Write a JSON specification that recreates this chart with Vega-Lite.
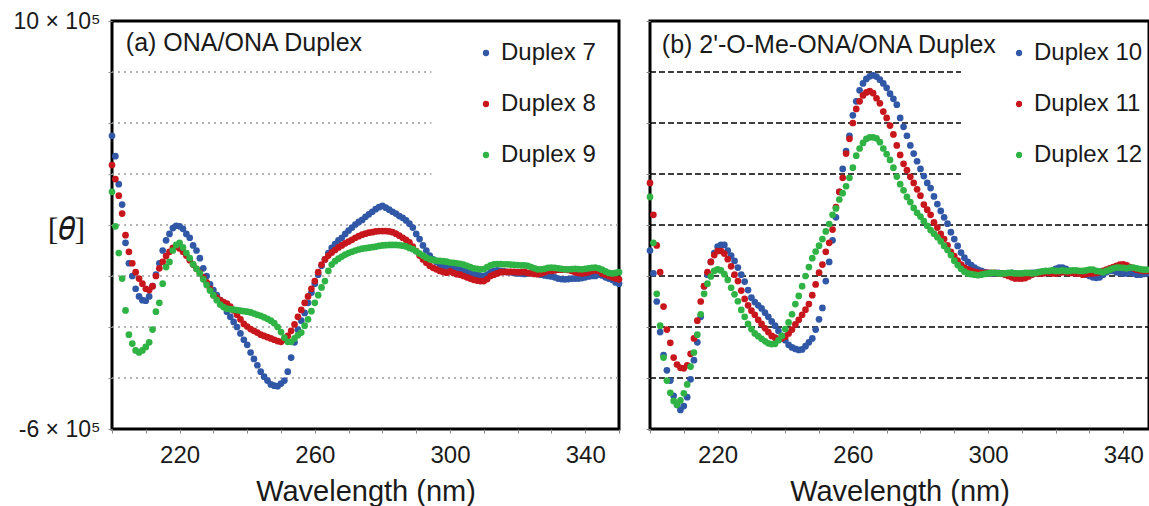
{
"$schema":"https://vega.github.io/schema/vega-lite/v6.json",
"padding":{"left":11,"top":8,"right":0,"bottom":0},
"spacing":20,
"background":"white",
"config":{
 "font":"Liberation Sans",
 "view":{"stroke":"#000","strokeWidth":3},
 "axis":{"domain":false,"grid":false,"tickColor":"#888","tickSize":4,"labelColor":"#1a1a1a","labelFont":"Liberation Sans","titleColor":"#1a1a1a","titleFontWeight":"normal"},
 "axisX":{"values":[200,220,240,260,280,300,320,340],"labelExpr":"datum.value % 40 == 20 ? datum.label : ''","labelFontSize":24,"labelPadding":10,"titleFontSize":29,"titlePadding":10,"labelFlush":false},
 "axisY":{"values":[-6,-4,-2,0,2,4,6,8,10],"labelExpr":"datum.value == 10 ? '10 × 10⁵' : (datum.value == -6 ? '-6 × 10⁵' : '')","labelFontSize":23,"labelPadding":8,"labelFlush":false}
},
"datasets":{
"a":[
{"w":200,"d7":5.5,"d8":4.35,"d9":3.3},{"w":201,"d7":4.7,"d8":3.8,"d9":1.95},{"w":202,"d7":3.6,"d8":3.15,"d9":0.9},{"w":203,"d7":2.8,"d8":2.45,"d9":-0.1},{"w":204,"d7":1.3,"d8":1.6,"d9":-1.35},{"w":205,"d7":0.5,"d8":0.95,"d9":-2.3},{"w":206,"d7":0.0,"d8":0.5,"d9":-2.65},{"w":207,"d7":-0.5,"d8":0.15,"d9":-2.92},{"w":208,"d7":-0.8,"d8":-0.1,"d9":-3.0},{"w":209,"d7":-0.95,"d8":-0.3,"d9":-2.92},
{"w":210,"d7":-0.97,"d8":-0.5,"d9":-2.78},{"w":211,"d7":-0.8,"d8":-0.55,"d9":-2.6},{"w":212,"d7":-0.4,"d8":-0.4,"d9":-2.1},{"w":213,"d7":0.05,"d8":0.0,"d9":-1.4},{"w":214,"d7":0.5,"d8":0.3,"d9":-1.05},{"w":215,"d7":1.0,"d8":0.55,"d9":-0.3},{"w":216,"d7":1.4,"d8":0.78,"d9":0.35},{"w":217,"d7":1.65,"d8":0.95,"d9":0.55},{"w":218,"d7":1.88,"d8":1.1,"d9":1.0},{"w":219,"d7":1.97,"d8":1.15,"d9":1.22},
{"w":220,"d7":1.95,"d8":1.08,"d9":1.3},{"w":221,"d7":1.85,"d8":0.95,"d9":1.12},{"w":222,"d7":1.65,"d8":0.8,"d9":0.9},{"w":223,"d7":1.5,"d8":0.62,"d9":0.7},{"w":224,"d7":1.2,"d8":0.45,"d9":0.46},{"w":225,"d7":1.0,"d8":0.28,"d9":0.28},{"w":226,"d7":0.7,"d8":0.12,"d9":0.1},{"w":227,"d7":0.3,"d8":-0.05,"d9":-0.13},{"w":228,"d7":0.0,"d8":-0.25,"d9":-0.35},{"w":229,"d7":-0.33,"d8":-0.5,"d9":-0.57},
{"w":230,"d7":-0.55,"d8":-0.75,"d9":-0.75},{"w":231,"d7":-0.75,"d8":-0.85,"d9":-0.95},{"w":232,"d7":-0.95,"d8":-0.95,"d9":-1.12},{"w":233,"d7":-1.15,"d8":-1.02,"d9":-1.22},{"w":234,"d7":-1.4,"d8":-1.08,"d9":-1.28},{"w":235,"d7":-1.6,"d8":-1.2,"d9":-1.3},{"w":236,"d7":-1.8,"d8":-1.35,"d9":-1.32},{"w":237,"d7":-2.0,"d8":-1.52,"d9":-1.34},{"w":238,"d7":-2.25,"d8":-1.7,"d9":-1.36},{"w":239,"d7":-2.5,"d8":-1.88,"d9":-1.38},
{"w":240,"d7":-2.7,"d8":-1.98,"d9":-1.4},{"w":241,"d7":-3.0,"d8":-2.08,"d9":-1.43},{"w":242,"d7":-3.25,"d8":-2.15,"d9":-1.47},{"w":243,"d7":-3.5,"d8":-2.22,"d9":-1.52},{"w":244,"d7":-3.75,"d8":-2.3,"d9":-1.56},{"w":245,"d7":-3.95,"d8":-2.35,"d9":-1.62},{"w":246,"d7":-4.1,"d8":-2.4,"d9":-1.68},{"w":247,"d7":-4.25,"d8":-2.45,"d9":-1.75},{"w":248,"d7":-4.3,"d8":-2.5,"d9":-1.85},{"w":249,"d7":-4.32,"d8":-2.55,"d9":-2.0},
{"w":250,"d7":-4.22,"d8":-2.58,"d9":-2.2},{"w":251,"d7":-4.1,"d8":-2.5,"d9":-2.42},{"w":252,"d7":-3.75,"d8":-2.35,"d9":-2.58},{"w":253,"d7":-3.2,"d8":-2.15,"d9":-2.58},{"w":254,"d7":-2.6,"d8":-1.9,"d9":-2.45},{"w":255,"d7":-2.1,"d8":-1.6,"d9":-2.32},{"w":256,"d7":-1.75,"d8":-1.33,"d9":-2.22},{"w":257,"d7":-1.45,"d8":-1.05,"d9":-1.95},{"w":258,"d7":-1.05,"d8":-0.8,"d9":-1.7},{"w":259,"d7":-0.65,"d8":-0.5,"d9":-1.38},
{"w":260,"d7":-0.3,"d8":-0.2,"d9":-1.05},{"w":261,"d7":0.05,"d8":0.15,"d9":-0.75},{"w":262,"d7":0.4,"d8":0.45,"d9":-0.45},{"w":263,"d7":0.65,"d8":0.65,"d9":-0.2},{"w":264,"d7":0.9,"d8":0.8,"d9":0.2},{"w":265,"d7":1.1,"d8":0.92,"d9":0.45},{"w":266,"d7":1.25,"d8":1.02,"d9":0.58},{"w":267,"d7":1.4,"d8":1.12,"d9":0.68},{"w":268,"d7":1.5,"d8":1.2,"d9":0.76},{"w":269,"d7":1.65,"d8":1.28,"d9":0.84},
{"w":270,"d7":1.78,"d8":1.35,"d9":0.9},{"w":271,"d7":1.9,"d8":1.42,"d9":0.95},{"w":272,"d7":2.02,"d8":1.5,"d9":1.0},{"w":273,"d7":2.12,"d8":1.56,"d9":1.04},{"w":274,"d7":2.2,"d8":1.62,"d9":1.07},{"w":275,"d7":2.32,"d8":1.66,"d9":1.09},{"w":276,"d7":2.42,"d8":1.7,"d9":1.11},{"w":277,"d7":2.52,"d8":1.72,"d9":1.13},{"w":278,"d7":2.62,"d8":1.75,"d9":1.15},{"w":279,"d7":2.7,"d8":1.76,"d9":1.18},
{"w":280,"d7":2.75,"d8":1.76,"d9":1.2},{"w":281,"d7":2.68,"d8":1.76,"d9":1.21},{"w":282,"d7":2.6,"d8":1.75,"d9":1.22},{"w":283,"d7":2.52,"d8":1.72,"d9":1.22},{"w":284,"d7":2.45,"d8":1.66,"d9":1.22},{"w":285,"d7":2.35,"d8":1.58,"d9":1.21},{"w":286,"d7":2.28,"d8":1.5,"d9":1.19},{"w":287,"d7":2.18,"d8":1.42,"d9":1.16},{"w":288,"d7":2.05,"d8":1.32,"d9":1.1},{"w":289,"d7":1.9,"d8":1.15,"d9":1.05},
{"w":290,"d7":1.65,"d8":0.98,"d9":0.97},{"w":291,"d7":1.45,"d8":0.8,"d9":0.88},{"w":292,"d7":1.2,"d8":0.65,"d9":0.8},{"w":293,"d7":1.0,"d8":0.52,"d9":0.72},{"w":294,"d7":0.8,"d8":0.4,"d9":0.66},{"w":295,"d7":0.65,"d8":0.32,"d9":0.63},{"w":296,"d7":0.55,"d8":0.26,"d9":0.6},{"w":297,"d7":0.45,"d8":0.2,"d9":0.59},{"w":298,"d7":0.4,"d8":0.16,"d9":0.58},{"w":299,"d7":0.38,"d8":0.13,"d9":0.56},
{"w":300,"d7":0.37,"d8":0.18,"d9":0.53},{"w":301,"d7":0.35,"d8":0.12,"d9":0.52},{"w":302,"d7":0.33,"d8":0.07,"d9":0.5},{"w":303,"d7":0.25,"d8":0.05,"d9":0.48},{"w":304,"d7":0.2,"d8":0.0,"d9":0.45},{"w":305,"d7":0.18,"d8":-0.05,"d9":0.4},{"w":306,"d7":0.12,"d8":-0.1,"d9":0.35},{"w":307,"d7":0.08,"d8":-0.15,"d9":0.3},{"w":308,"d7":0.05,"d8":-0.18,"d9":0.28},{"w":309,"d7":0.02,"d8":-0.2,"d9":0.26},
{"w":310,"d7":0.0,"d8":-0.2,"d9":0.27},{"w":311,"d7":0.05,"d8":-0.12,"d9":0.35},{"w":312,"d7":0.15,"d8":0.0,"d9":0.42},{"w":313,"d7":0.2,"d8":0.05,"d9":0.46},{"w":314,"d7":0.22,"d8":0.1,"d9":0.47},{"w":315,"d7":0.2,"d8":0.15,"d9":0.47},{"w":316,"d7":0.18,"d8":0.16,"d9":0.46},{"w":317,"d7":0.15,"d8":0.16,"d9":0.46},{"w":318,"d7":0.15,"d8":0.16,"d9":0.45},{"w":319,"d7":0.12,"d8":0.16,"d9":0.44},
{"w":320,"d7":0.1,"d8":0.15,"d9":0.43},{"w":321,"d7":0.1,"d8":0.15,"d9":0.42},{"w":322,"d7":0.08,"d8":0.16,"d9":0.42},{"w":323,"d7":0.1,"d8":0.12,"d9":0.4},{"w":324,"d7":0.12,"d8":0.1,"d9":0.35},{"w":325,"d7":0.1,"d8":0.08,"d9":0.3},{"w":326,"d7":0.08,"d8":0.07,"d9":0.26},{"w":327,"d7":0.05,"d8":0.1,"d9":0.26},{"w":328,"d7":0.02,"d8":0.15,"d9":0.28},{"w":329,"d7":0.0,"d8":0.2,"d9":0.32},
{"w":330,"d7":-0.02,"d8":0.2,"d9":0.33},{"w":331,"d7":-0.05,"d8":0.22,"d9":0.32},{"w":332,"d7":-0.1,"d8":0.25,"d9":0.3},{"w":333,"d7":-0.12,"d8":0.25,"d9":0.28},{"w":334,"d7":-0.13,"d8":0.26,"d9":0.26},{"w":335,"d7":-0.12,"d8":0.24,"d9":0.26},{"w":336,"d7":-0.1,"d8":0.2,"d9":0.27},{"w":337,"d7":-0.1,"d8":0.15,"d9":0.28},{"w":338,"d7":-0.1,"d8":0.12,"d9":0.27},{"w":339,"d7":-0.08,"d8":0.1,"d9":0.26},
{"w":340,"d7":-0.05,"d8":0.12,"d9":0.28},{"w":341,"d7":-0.02,"d8":0.15,"d9":0.3},{"w":342,"d7":0.0,"d8":0.2,"d9":0.32},{"w":343,"d7":0.0,"d8":0.22,"d9":0.33},{"w":344,"d7":0.05,"d8":0.2,"d9":0.3},{"w":345,"d7":0.02,"d8":0.1,"d9":0.25},{"w":346,"d7":-0.05,"d8":0.05,"d9":0.18},{"w":347,"d7":-0.1,"d8":0.0,"d9":0.12},{"w":348,"d7":-0.15,"d8":-0.05,"d9":0.1},{"w":349,"d7":-0.25,"d8":-0.1,"d9":0.12},
{"w":350,"d7":-0.3,"d8":-0.13,"d9":0.15}
],
"b":[
{"w":200,"d10":1.0,"d11":3.65,"d12":3.1},{"w":201,"d10":0.1,"d11":2.4,"d12":1.3},{"w":202,"d10":-1.0,"d11":1.2,"d12":-0.7},{"w":203,"d10":-2.2,"d11":0.15,"d12":-1.95},{"w":204,"d10":-3.1,"d11":-1.2,"d12":-3.2},{"w":205,"d10":-3.7,"d11":-2.1,"d12":-4.1},{"w":206,"d10":-4.1,"d11":-2.62,"d12":-4.58},{"w":207,"d10":-4.7,"d11":-3.2,"d12":-4.9},{"w":208,"d10":-5.05,"d11":-3.47,"d12":-5.05},{"w":209,"d10":-5.25,"d11":-3.6,"d12":-4.88},
{"w":210,"d10":-5.1,"d11":-3.62,"d12":-4.6},{"w":211,"d10":-4.75,"d11":-3.5,"d12":-4.25},{"w":212,"d10":-4.05,"d11":-3.05,"d12":-3.55},{"w":213,"d10":-3.3,"d11":-2.45,"d12":-3.0},{"w":214,"d10":-2.6,"d11":-1.75,"d12":-2.3},{"w":215,"d10":-1.6,"d11":-1.0,"d12":-1.5},{"w":216,"d10":-0.4,"d11":-0.4,"d12":-0.7},{"w":217,"d10":0.05,"d11":0.15,"d12":-0.3},{"w":218,"d10":0.55,"d11":0.55,"d12":-0.02},{"w":219,"d10":0.9,"d11":0.82,"d12":0.2},
{"w":220,"d10":1.15,"d11":0.98,"d12":0.26},{"w":221,"d10":1.22,"d11":0.98,"d12":0.22},{"w":222,"d10":1.22,"d11":0.88,"d12":0.07},{"w":223,"d10":1.0,"d11":0.66,"d12":-0.15},{"w":224,"d10":0.8,"d11":0.38,"d12":-0.46},{"w":225,"d10":0.59,"d11":0.05,"d12":-0.72},{"w":226,"d10":0.33,"d11":-0.2,"d12":-0.99},{"w":227,"d10":0.05,"d11":-0.57,"d12":-1.33},{"w":228,"d10":-0.22,"d11":-0.9,"d12":-1.6},{"w":229,"d10":-0.55,"d11":-1.15,"d12":-1.88},
{"w":230,"d10":-0.85,"d11":-1.36,"d12":-2.08},{"w":231,"d10":-1.02,"d11":-1.52,"d12":-2.25},{"w":232,"d10":-1.15,"d11":-1.72,"d12":-2.36},{"w":233,"d10":-1.27,"d11":-1.88,"d12":-2.46},{"w":234,"d10":-1.44,"d11":-2.05,"d12":-2.56},{"w":235,"d10":-1.6,"d11":-2.2,"d12":-2.64},{"w":236,"d10":-1.78,"d11":-2.35,"d12":-2.67},{"w":237,"d10":-1.95,"d11":-2.42,"d12":-2.66},{"w":238,"d10":-2.15,"d11":-2.5,"d12":-2.52},{"w":239,"d10":-2.35,"d11":-2.45,"d12":-2.35},
{"w":240,"d10":-2.52,"d11":-2.38,"d12":-2.08},{"w":241,"d10":-2.7,"d11":-2.25,"d12":-1.82},{"w":242,"d10":-2.8,"d11":-2.1,"d12":-1.5},{"w":243,"d10":-2.86,"d11":-1.9,"d12":-1.1},{"w":244,"d10":-2.9,"d11":-1.72,"d12":-0.78},{"w":245,"d10":-2.88,"d11":-1.52,"d12":-0.4},{"w":246,"d10":-2.75,"d11":-1.32,"d12":0.0},{"w":247,"d10":-2.6,"d11":-1.1,"d12":0.35},{"w":248,"d10":-2.45,"d11":-0.75,"d12":0.7},{"w":249,"d10":-2.1,"d11":-0.33,"d12":0.96},
{"w":250,"d10":-1.7,"d11":0.13,"d12":1.19},{"w":251,"d10":-1.25,"d11":0.45,"d12":1.45},{"w":252,"d10":-0.2,"d11":0.95,"d12":1.75},{"w":253,"d10":0.55,"d11":1.3,"d12":2.04},{"w":254,"d10":1.4,"d11":1.82,"d12":2.4},{"w":255,"d10":2.3,"d11":2.7,"d12":2.65},{"w":256,"d10":3.3,"d11":3.3,"d12":3.0},{"w":257,"d10":4.2,"d11":3.85,"d12":3.25},{"w":258,"d10":4.9,"d11":4.8,"d12":3.52},{"w":259,"d10":5.5,"d11":5.38,"d12":3.85},
{"w":260,"d10":6.3,"d11":6.0,"d12":4.25},{"w":261,"d10":6.85,"d11":6.55,"d12":4.72},{"w":262,"d10":7.28,"d11":6.85,"d12":5.0},{"w":263,"d10":7.55,"d11":7.08,"d12":5.22},{"w":264,"d10":7.73,"d11":7.2,"d12":5.38},{"w":265,"d10":7.83,"d11":7.25,"d12":5.44},{"w":266,"d10":7.87,"d11":7.17,"d12":5.44},{"w":267,"d10":7.82,"d11":6.97,"d12":5.4},{"w":268,"d10":7.7,"d11":6.77,"d12":5.25},{"w":269,"d10":7.55,"d11":6.45,"d12":5.0},
{"w":270,"d10":7.38,"d11":6.2,"d12":4.78},{"w":271,"d10":7.15,"d11":5.9,"d12":4.55},{"w":272,"d10":6.95,"d11":5.55,"d12":4.25},{"w":273,"d10":6.72,"d11":5.12,"d12":3.9},{"w":274,"d10":6.2,"d11":4.75,"d12":3.6},{"w":275,"d10":5.85,"d11":4.4,"d12":3.36},{"w":276,"d10":5.5,"d11":4.15,"d12":3.1},{"w":277,"d10":5.12,"d11":3.89,"d12":2.9},{"w":278,"d10":4.8,"d11":3.65,"d12":2.67},{"w":279,"d10":4.5,"d11":3.4,"d12":2.48},
{"w":280,"d10":4.2,"d11":3.15,"d12":2.33},{"w":281,"d10":3.92,"d11":2.8,"d12":2.15},{"w":282,"d10":3.65,"d11":2.6,"d12":1.97},{"w":283,"d10":3.45,"d11":2.4,"d12":1.8},{"w":284,"d10":3.12,"d11":2.1,"d12":1.66},{"w":285,"d10":2.82,"d11":1.9,"d12":1.52},{"w":286,"d10":2.55,"d11":1.65,"d12":1.36},{"w":287,"d10":2.3,"d11":1.45,"d12":1.18},{"w":288,"d10":2.05,"d11":1.2,"d12":1.02},{"w":289,"d10":1.72,"d11":0.95,"d12":0.82},
{"w":290,"d10":1.45,"d11":0.78,"d12":0.6},{"w":291,"d10":1.18,"d11":0.6,"d12":0.43},{"w":292,"d10":0.92,"d11":0.45,"d12":0.28},{"w":293,"d10":0.72,"d11":0.33,"d12":0.17},{"w":294,"d10":0.55,"d11":0.26,"d12":0.1},{"w":295,"d10":0.43,"d11":0.2,"d12":0.07},{"w":296,"d10":0.33,"d11":0.16,"d12":0.05},{"w":297,"d10":0.25,"d11":0.13,"d12":0.03},{"w":298,"d10":0.2,"d11":0.12,"d12":0.05},{"w":299,"d10":0.15,"d11":0.12,"d12":0.08},
{"w":300,"d10":0.12,"d11":0.12,"d12":0.1},{"w":301,"d10":0.1,"d11":0.12,"d12":0.12},{"w":302,"d10":0.1,"d11":0.12,"d12":0.12},{"w":303,"d10":0.12,"d11":0.1,"d12":0.1},{"w":304,"d10":0.1,"d11":0.1,"d12":0.1},{"w":305,"d10":0.08,"d11":0.05,"d12":0.1},{"w":306,"d10":0.1,"d11":0.0,"d12":0.12},{"w":307,"d10":0.12,"d11":-0.05,"d12":0.12},{"w":308,"d10":0.1,"d11":-0.1,"d12":0.1},{"w":309,"d10":0.05,"d11":-0.1,"d12":0.1},
{"w":310,"d10":0.05,"d11":-0.1,"d12":0.1},{"w":311,"d10":0.08,"d11":-0.08,"d12":0.12},{"w":312,"d10":0.1,"d11":-0.02,"d12":0.12},{"w":313,"d10":0.12,"d11":0.05,"d12":0.1},{"w":314,"d10":0.12,"d11":0.1,"d12":0.12},{"w":315,"d10":0.15,"d11":0.1,"d12":0.15},{"w":316,"d10":0.15,"d11":0.1,"d12":0.18},{"w":317,"d10":0.12,"d11":0.12,"d12":0.2},{"w":318,"d10":0.15,"d11":0.12,"d12":0.2},{"w":319,"d10":0.2,"d11":0.1,"d12":0.22},
{"w":320,"d10":0.28,"d11":0.1,"d12":0.2},{"w":321,"d10":0.33,"d11":0.12,"d12":0.2},{"w":322,"d10":0.33,"d11":0.15,"d12":0.22},{"w":323,"d10":0.28,"d11":0.15,"d12":0.2},{"w":324,"d10":0.2,"d11":0.12,"d12":0.2},{"w":325,"d10":0.15,"d11":0.12,"d12":0.22},{"w":326,"d10":0.12,"d11":0.1,"d12":0.22},{"w":327,"d10":0.12,"d11":0.1,"d12":0.2},{"w":328,"d10":0.1,"d11":0.05,"d12":0.2},{"w":329,"d10":0.05,"d11":0.08,"d12":0.22},
{"w":330,"d10":0.0,"d11":0.1,"d12":0.25},{"w":331,"d10":-0.05,"d11":0.1,"d12":0.25},{"w":332,"d10":-0.07,"d11":0.12,"d12":0.2},{"w":333,"d10":-0.05,"d11":0.15,"d12":0.18},{"w":334,"d10":0.05,"d11":0.2,"d12":0.15},{"w":335,"d10":0.15,"d11":0.25,"d12":0.2},{"w":336,"d10":0.2,"d11":0.3,"d12":0.25},{"w":337,"d10":0.2,"d11":0.35,"d12":0.3},{"w":338,"d10":0.15,"d11":0.4,"d12":0.33},{"w":339,"d10":0.12,"d11":0.45,"d12":0.33},
{"w":340,"d10":0.1,"d11":0.46,"d12":0.32},{"w":341,"d10":0.1,"d11":0.42,"d12":0.3},{"w":342,"d10":0.12,"d11":0.35,"d12":0.33},{"w":343,"d10":0.1,"d11":0.3,"d12":0.33},{"w":344,"d10":0.05,"d11":0.25,"d12":0.3},{"w":345,"d10":0.05,"d11":0.22,"d12":0.27},{"w":346,"d10":0.08,"d11":0.2,"d12":0.25},{"w":347,"d10":0.1,"d11":0.2,"d12":0.25}
],
"ga":[{"y":8,"x1":200,"x2":294.5},{"y":6,"x1":200,"x2":294.5},{"y":4,"x1":200,"x2":294.5},{"y":2,"x1":200,"x2":350},{"y":0,"x1":200,"x2":350},{"y":-2,"x1":200,"x2":350},{"y":-4,"x1":200,"x2":350}],
"gb":[{"y":8,"x1":200,"x2":292},{"y":6,"x1":200,"x2":292},{"y":4,"x1":200,"x2":292},{"y":2,"x1":200,"x2":347.6},{"y":0,"x1":200,"x2":347.6},{"y":-2,"x1":200,"x2":347.6},{"y":-4,"x1":200,"x2":347.6}],
"ta":[{"t":"(a) ONA/ONA Duplex","x":204.1,"y":8.82}],
"tb":[{"t":"(b) 2'-O-Me-ONA/ONA Duplex","x":203.5,"y":8.75}]
},
"resolve":{"scale":{"color":"independent","x":"independent","y":"independent"},"legend":{"color":"independent"}},
"hconcat":[
{
 "width":507,"height":408,
 "layer":[
  {"data":{"name":"ga"},"mark":{"type":"rule","strokeDash":[2,4],"color":"#9a9a9a","strokeWidth":1.5},
   "encoding":{"x":{"field":"x1","type":"quantitative","scale":{"domain":[200,350],"nice":false,"zero":false},"title":"Wavelength (nm)"},"x2":{"field":"x2"},
     "y":{"field":"y","type":"quantitative","scale":{"domain":[-6,10],"nice":false,"zero":false},"title":"[𝜃]","axis":{"titleAngle":0,"titleX":-46,"titleY":208,"titleAlign":"center","titleBaseline":"middle","titleFont":"Liberation Serif","titleFontSize":32}}}},
  {"data":{"name":"ta"},"mark":{"type":"text","align":"left","baseline":"alphabetic","fontSize":25,"font":"Liberation Sans","color":"#1a1a1a"},
   "encoding":{"x":{"field":"x","type":"quantitative","title":"Wavelength (nm)"},"y":{"field":"y","type":"quantitative","title":"[𝜃]"},"text":{"field":"t"}}},
  {"data":{"name":"a"},"transform":[{"fold":["d7","d8","d9"],"as":["key","val"]}],
   "mark":{"type":"circle","size":45,"opacity":1},
   "encoding":{"x":{"field":"w","type":"quantitative","title":"Wavelength (nm)"},
     "y":{"field":"val","type":"quantitative","title":"[𝜃]"},
     "order":{"field":"key"},
     "color":{"field":"key","type":"nominal","scale":{"domain":["d7","d8","d9"],"range":["#3157a7","#c8161d","#2fb344"]},
       "legend":{"title":null,"orient":"none","legendX":362,"legendY":20,"labelFontSize":24,"labelFont":"Liberation Sans","labelColor":"#1a1a1a","symbolSize":40,"symbolType":"circle","rowPadding":27,"labelOffset":3,"padding":0,"labelExpr":"'Duplex ' + slice(datum.label, 1)"}}}}
 ]
},
{
 "width":499,"height":408,
 "layer":[
  {"data":{"name":"gb"},"mark":{"type":"rule","strokeDash":[6,3],"color":"#000","strokeWidth":1.6},
   "encoding":{"x":{"field":"x1","type":"quantitative","scale":{"domain":[200,347.6],"nice":false,"zero":false},"title":"Wavelength (nm)"},"x2":{"field":"x2"},
     "y":{"field":"y","type":"quantitative","scale":{"domain":[-6,10],"nice":false,"zero":false},"title":null,"axis":{"labels":false}}}},
  {"data":{"name":"tb"},"mark":{"type":"text","align":"left","baseline":"alphabetic","fontSize":25,"font":"Liberation Sans","color":"#1a1a1a"},
   "encoding":{"x":{"field":"x","type":"quantitative","title":"Wavelength (nm)"},"y":{"field":"y","type":"quantitative","title":null},"text":{"field":"t"}}},
  {"data":{"name":"b"},"transform":[{"fold":["d10","d11","d12"],"as":["key","val"]}],
   "mark":{"type":"circle","size":45,"opacity":1},
   "encoding":{"x":{"field":"w","type":"quantitative","title":"Wavelength (nm)"},
     "y":{"field":"val","type":"quantitative","title":null,"axis":{"labels":false}},
     "order":{"field":"key"},
     "color":{"field":"key","type":"nominal","scale":{"domain":["d10","d11","d12"],"range":["#3157a7","#c8161d","#2fb344"]},
       "legend":{"title":null,"orient":"none","legendX":357,"legendY":20,"labelFontSize":24,"labelFont":"Liberation Sans","labelColor":"#1a1a1a","symbolSize":40,"symbolType":"circle","rowPadding":27,"labelOffset":3,"padding":0,"labelExpr":"'Duplex ' + slice(datum.label, 1)"}}}}
 ]
}
]
}
